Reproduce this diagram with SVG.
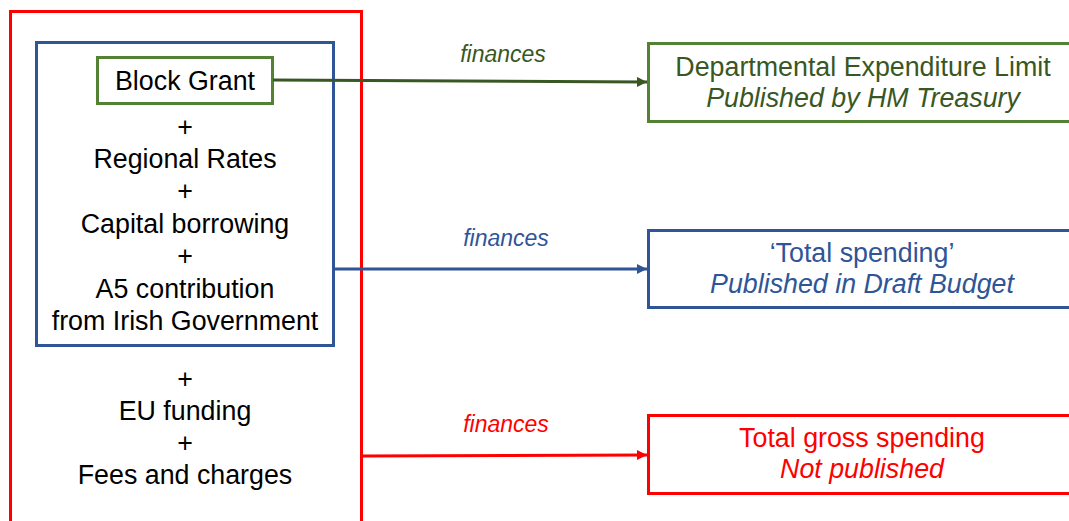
<svg xmlns="http://www.w3.org/2000/svg" width="1069" height="521" viewBox="0 0 1069 521">
<style>
text{font-family:"Liberation Sans",Arial,sans-serif;text-anchor:middle}
.l{font-size:26.8px;fill:#000}
.r{font-size:26.8px}
.it{font-style:italic}
.f{font-size:23px;font-style:italic}
</style>
<defs>
<marker id="ag" viewBox="0 0 10 10" refX="10" refY="5" markerWidth="10" markerHeight="10" markerUnits="userSpaceOnUse" orient="auto"><path d="M0,0L10,5L0,10z" fill="#385723"/></marker>
<marker id="ab" viewBox="0 0 10 10" refX="10" refY="5" markerWidth="10" markerHeight="10" markerUnits="userSpaceOnUse" orient="auto"><path d="M0,0L10,5L0,10z" fill="#2F5597"/></marker>
<marker id="ar" viewBox="0 0 10 10" refX="10" refY="5" markerWidth="10" markerHeight="10" markerUnits="userSpaceOnUse" orient="auto"><path d="M0,0L10,5L0,10z" fill="#FF0000"/></marker>
</defs>
<rect width="1069" height="521" fill="#fff"/>
<g id="outer-red">
<rect x="10.5" y="11.5" width="351" height="520" fill="none" stroke="#FF0000" stroke-width="3"/>
<text class="l" x="185" y="388">+</text>
<text class="l" x="185" y="420">EU funding</text>
<text class="l" x="185" y="452">+</text>
<text class="l" x="185" y="484">Fees and charges</text>
</g>
<g id="inner-blue">
<rect x="36.5" y="42.5" width="297" height="303" fill="none" stroke="#2F5597" stroke-width="3"/>
<text class="l" x="185" y="136">+</text>
<text class="l" x="185" y="168">Regional Rates</text>
<text class="l" x="185" y="200">+</text>
<text class="l" x="185" y="233">Capital borrowing</text>
<text class="l" x="185" y="265">+</text>
<text class="l" x="185" y="298">A5 contribution</text>
<text class="l" x="185" y="330">from Irish Government</text>
</g>
<g id="block-grant">
<rect x="97.5" y="57.5" width="175" height="46" fill="#fff" stroke="#548235" stroke-width="3"/>
<text class="l" x="185" y="90">Block Grant</text>
</g>
<g id="del">
<rect x="648.5" y="43.5" width="440" height="78" fill="#fff" stroke="#548235" stroke-width="3"/>
<text class="r" x="863" y="76" fill="#385723">Departmental Expenditure Limit</text>
<text class="r it" x="863" y="107" fill="#385723">Published by HM Treasury</text>
</g>
<g id="total-spending">
<rect x="648.5" y="230.5" width="440" height="77" fill="#fff" stroke="#2F5597" stroke-width="3"/>
<text class="r" x="862" y="262" fill="#2F5597">‘Total spending’</text>
<text class="r it" x="862" y="293" fill="#2F5597">Published in Draft Budget</text>
</g>
<g id="total-gross">
<rect x="648.5" y="415.5" width="440" height="78" fill="#fff" stroke="#FF0000" stroke-width="3"/>
<text class="r" x="862" y="447" fill="#FF0000">Total gross spending</text>
<text class="r it" x="862" y="478" fill="#FF0000">Not published</text>
</g>
<g id="connectors" fill="none" stroke-width="3">
<line x1="273" y1="80" x2="647" y2="82" stroke="#385723" marker-end="url(#ag)"/>
<line x1="334" y1="269" x2="647" y2="269" stroke="#2F5597" marker-end="url(#ab)"/>
<line x1="362" y1="456" x2="647" y2="455" stroke="#FF0000" marker-end="url(#ar)"/>
<text class="f" x="503" y="62" fill="#385723" stroke="none">finances</text>
<text class="f" x="506" y="246" fill="#2F5597" stroke="none">finances</text>
<text class="f" x="506" y="432" fill="#FF0000" stroke="none">finances</text>
</g>
</svg>
